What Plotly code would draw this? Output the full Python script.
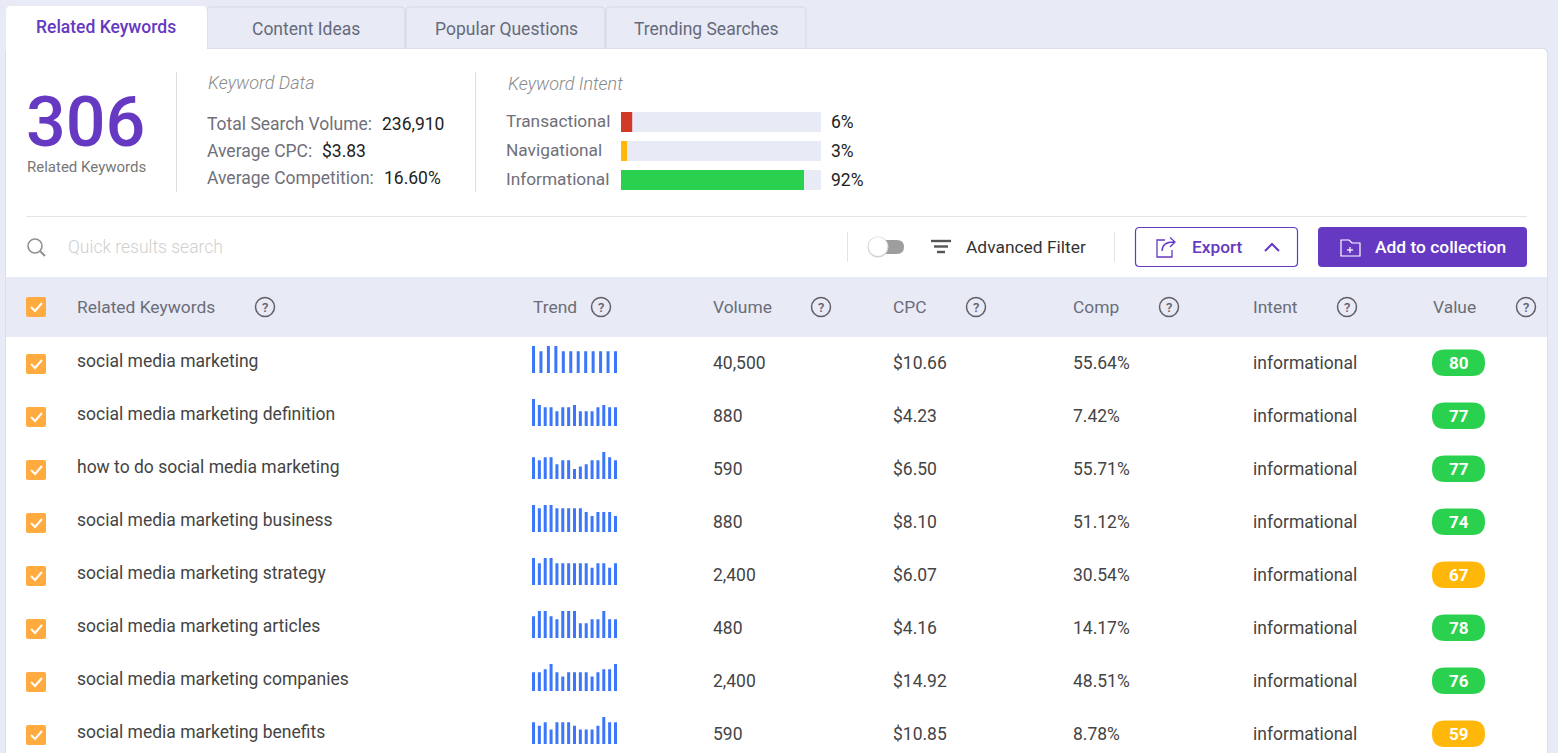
import re
import plotly.graph_objects as go

W, H = 1558, 753
FONT = "Roboto"
PURPLE = "#6639c2"
PAGE = "#e8eaf6"
GREEN = "#2ad14f"
YELLOW = "#ffb80a"
BLUE = "#3b76fb"

# --- data ---
tabs = ["Related Keywords", "Content Ideas", "Popular Questions", "Trending Searches"]
keyword_stats = [("Total Search Volume:", "236,910"), ("Average CPC:", "$3.83"), ("Average Competition:", "16.60%")]
intent_names = ["Transactional", "Navigational", "Informational"]
intent_values = [5.6, 3.0, 91.5]
intent_labels = ["6%", "3%", "92%"]
intent_colors = ["#d03a27", YELLOW, GREEN]
columns = ["Related Keywords", "Trend", "Volume", "CPC", "Comp", "Intent", "Value"]
keywords = [
    "social media marketing",
    "social media marketing definition",
    "how to do social media marketing",
    "social media marketing business",
    "social media marketing strategy",
    "social media marketing articles",
    "social media marketing companies",
    "social media marketing benefits",
]
volumes = ["40,500", "880", "590", "880", "2,400", "480", "2,400", "590"]
cpcs = ["$10.66", "$4.23", "$6.50", "$8.10", "$6.07", "$4.16", "$14.92", "$10.85"]
comps = ["55.64%", "7.42%", "55.71%", "51.12%", "30.54%", "14.17%", "48.51%", "8.78%"]
intents = ["informational"] * 8
scores = [80, 77, 77, 74, 67, 78, 76, 59]
trends = [
    [100, 81, 100, 100, 81, 81, 81, 81, 81, 81, 81, 81],
    [100, 78, 69, 69, 55, 69, 69, 78, 55, 55, 55, 69, 78, 69, 69],
    [81, 69, 81, 81, 55, 69, 69, 37, 46, 55, 69, 69, 100, 81, 69],
    [100, 88, 100, 100, 88, 88, 88, 88, 88, 74, 59, 74, 74, 74, 59],
    [100, 81, 100, 100, 81, 81, 81, 81, 81, 81, 64, 81, 81, 64, 81],
    [81, 100, 100, 81, 69, 100, 100, 100, 55, 55, 69, 69, 100, 69, 69],
    [69, 69, 81, 100, 69, 54, 69, 69, 69, 69, 54, 69, 81, 81, 100],
    [81, 68, 81, 54, 81, 81, 81, 68, 54, 54, 54, 68, 100, 81, 81],
]

shapes = []
notes = []
fig = go.Figure()


def px(x):
    return x / W


def py(y):
    return 1 - y / H


def to_paper(path):
    # paths are written in page pixels, shapes want paper fractions
    return re.sub(r"(-?[\d.]+),(-?[\d.]+)", lambda m: f"{px(float(m[1])):.5f},{py(float(m[2])):.5f}", path)


def add_shape(**kw):
    shapes.append(dict(xref="paper", yref="paper", layer="below", **kw))


def rect(x0, y0, x1, y1, fill):
    add_shape(type="rect", x0=px(x0), y0=py(y0), x1=px(x1), y1=py(y1), fillcolor=fill, line=dict(width=0))


def rrect(x0, y0, x1, y1, r, fill, line=None, lw=1, top_only=False):
    rb = 0 if top_only else r
    p = (f"M{x0+r},{y0} L{x1-r},{y0} Q{x1},{y0} {x1},{y0+r} L{x1},{y1-rb} Q{x1},{y1} {x1-rb},{y1} "
         f"L{x0+rb},{y1} Q{x0},{y1} {x0},{y1-rb} L{x0},{y0+r} Q{x0},{y0} {x0+r},{y0} Z")
    add_shape(type="path", path=to_paper(p), fillcolor=fill,
              line=dict(color=line or "rgba(0,0,0,0)", width=lw if line else 0))


def stroke(path, color, lw=1.5):
    add_shape(type="path", path=to_paper(path), fillcolor="rgba(0,0,0,0)", line=dict(color=color, width=lw))


def seg(x0, y0, x1, y1, color, lw=1):
    add_shape(type="line", x0=px(x0), y0=py(y0), x1=px(x1), y1=py(y1), line=dict(color=color, width=lw))


def circle(cx, cy, r, fill, line=None, lw=1):
    add_shape(type="circle", x0=px(cx-r), y0=py(cy-r), x1=px(cx+r), y1=py(cy+r), fillcolor=fill,
              line=dict(color=line or "rgba(0,0,0,0)", width=lw if line else 0))


def text(x, y, s, size=16, color="#444", anchor="left", weight=400, style="normal", box_h=None):
    # annotations pad their box by about 1px on the left
    x = x - 1 if anchor == "left" else x
    note = dict(xref="paper", yref="paper", x=px(x), y=py(y), text=s, showarrow=False, xanchor=anchor,
                yanchor="middle", borderpad=0,
                font=dict(family=FONT, size=size, color=color, weight=weight, style=style))
    if box_h:
        note["height"] = box_h
    notes.append(note)


def checkbox(y):
    rrect(26, y-10, 46, y+10, 2, "#ffab40")
    stroke(f"M31,{y} L35,{y+4} L42,{y-4}", "white", 2)


def helpicon(x, y):
    circle(x, y, 9.5, "rgba(0,0,0,0)", "#5f6068", 1.5)
    text(x, y, "?", 13, "#5f6068", "center", 500)


# card and tabs
for x0, x1 in [(207, 405), (406, 605), (606, 806)]:
    rrect(x0, 7, x1, 49, 4, PAGE, "#d5d7e6", 1, top_only=True)
rrect(5, 48, 1548, 760, 5, "#dcdeec")
rrect(6, 49, 1547, 760, 5, "white")
rrect(6, 6, 207, 52, 5, "white", top_only=True)
tab_x = [105.8, 306, 506, 706]
for i, t in enumerate(tabs):
    text(tab_x[i], 27 if i == 0 else 29, t, 17.5, PURPLE if i == 0 else "#666a7a", "center", 500 if i == 0 else 400)

# summary block
text(26, 122, "306", 70, PURPLE, weight=500, box_h=66)
text(26.5, 167, "Related Keywords", 15, "#777")
seg(176.5, 72, 176.5, 192, "#dddddd")
seg(475.5, 72, 475.5, 192, "#dddddd")
text(207.5, 82, "Keyword Data", 18, "#8a8a8a", weight=300, style="italic")
text(507.5, 83, "Keyword Intent", 18, "#8a8a8a", weight=300, style="italic")
stat_value_x = [382, 322, 384]
for i, (name, val) in enumerate(keyword_stats):
    text(207, 124 + 27 * i, name, 17.5, "#70707a")
    text(stat_value_x[i], 124 + 27 * i, val, 17.5, "#222")
seg(26, 216.5, 1527, 216.5, "#e4e4e8")

# intent bars
bar_y = [122, 151, 180]
for i, name in enumerate(intent_names):
    text(506, bar_y[i] - 1, name, 17.3, "#70707a")
    text(831, bar_y[i], intent_labels[i], 17.5, "#222")
    ax = str(i + 11)
    fig.add_trace(go.Bar(x=[100], y=[0], orientation="h", width=1, marker=dict(color=PAGE, line_width=0),
                         xaxis="x" + ax, yaxis="y" + ax, showlegend=False, hoverinfo="skip"))
    fig.add_trace(go.Bar(x=[intent_values[i]], y=[0], orientation="h", width=1,
                         marker=dict(color=intent_colors[i], line_width=0),
                         xaxis="x" + ax, yaxis="y" + ax, showlegend=False))

# toolbar
circle(35, 246, 7, "rgba(0,0,0,0)", "#8f8f8f", 1.6)
seg(40, 251, 45, 256, "#8f8f8f", 2)
text(68, 247, "Quick results search", 17.5, "#cfcfcf", weight=300)
seg(847.5, 232, 847.5, 262, "#e4e4e8")
seg(1114.5, 232, 1114.5, 262, "#e4e4e8")
rrect(878, 240, 904, 254, 7, "#9e9e9e")
circle(878, 247, 10.5, "#d2d2d2")
circle(878, 246.5, 9.5, "white")
seg(931, 241, 951, 241, "#555", 2.4)
seg(934, 246.5, 948, 246.5, "#555", 2.4)
seg(937, 252, 945, 252, "#555", 2.4)
text(966, 247, "Advanced Filter", 17.4, "#333")
rrect(1135.5, 227.5, 1297.5, 266.5, 4, "white", PURPLE, 1.2)
stroke("M1165,240 L1157,240 L1157,257 L1172,257 L1172,250", PURPLE, 1.3)
stroke("M1162,251 C1162,244 1167,242 1174,242 M1170,237.5 L1175,242 L1170,247", PURPLE, 1.3)
text(1192, 247, "Export", 17.3, PURPLE, weight=500)
stroke("M1265,251 L1272,244 L1279,251", PURPLE, 2)
rrect(1318, 227, 1527, 267, 4, PURPLE)
stroke("M1341,240 L1349,240 L1352,243 L1360,243 L1360,256 L1341,256 Z", "white", 1.2)
seg(1347, 250, 1353, 250, "white", 1.2)
seg(1350, 247, 1350, 253, "white", 1.2)
text(1375, 247, "Add to collection", 17.4, "white", weight=500)

# table header
rect(6, 277, 1547, 337, PAGE)
checkbox(307)
col_x = [76.5, 532.5, 712.5, 892.5, 1072.5, 1252.5, 1432.5]
help_x = [265, 601, 821, 976, 1169, 1347, 1526]
for i, c in enumerate(columns):
    text(col_x[i], 307, c, 17.4, "#6b6d78")
    helpicon(help_x[i], 307)

# table rows
layout_axes = {}
for i, kw in enumerate(keywords):
    dy = 53 * i
    checkbox(364 + dy)
    text(col_x[0], 361 + dy, kw, 17.5, "#444")
    text(col_x[2], 363 + dy, volumes[i], 17.5, "#444")
    text(col_x[3], 363 + dy, cpcs[i], 17.5, "#444")
    text(col_x[4], 363 + dy, comps[i], 17.5, "#444")
    text(col_x[5], 363 + dy, intents[i], 17.5, "#444")
    rrect(1432, 349.5 + dy, 1485, 376 + dy, 13, GREEN if scores[i] >= 70 else YELLOW)
    text(1458.5, 363 + dy, str(scores[i]), 17, "white", "center", 700)

    n = len(trends[i])
    slot = 82 / (n - 1)
    a = str(i + 2)
    fig.add_trace(go.Bar(x=list(range(n)), y=trends[i], width=3 / slot, marker=dict(color=BLUE, line_width=0),
                         xaxis="x" + a, yaxis="y" + a, showlegend=False))
    layout_axes["xaxis" + a] = dict(domain=[px(533.5 - slot / 2), px(615.5 + slot / 2)],
                                    range=[-0.5, n - 0.5], visible=False, fixedrange=True, anchor="y" + a)
    layout_axes["yaxis" + a] = dict(domain=[py(373 + dy), py(346 + dy)],
                                    range=[0, 100], visible=False, fixedrange=True, anchor="x" + a)

for i in range(3):
    a = str(i + 11)
    layout_axes["xaxis" + a] = dict(domain=[px(621), px(821)], range=[0, 100], visible=False, fixedrange=True, anchor="y" + a)
    layout_axes["yaxis" + a] = dict(domain=[py(bar_y[i] + 10), py(bar_y[i] - 10)],
                                    range=[-0.5, 0.5], visible=False, fixedrange=True, anchor="x" + a)

fig.update_layout(
    width=W, height=H, margin=dict(l=0, r=0, t=0, b=0, pad=0),
    paper_bgcolor=PAGE, plot_bgcolor="rgba(0,0,0,0)", barmode="overlay", showlegend=False,
    font=dict(family=FONT),
    shapes=shapes, annotations=notes,
    **layout_axes,
)

# the browser's default body margin would push the page 8px off
fig.write_html("out.html", config={"displayModeBar": False},
               post_script="document.body.style.margin='0';document.body.style.background='#e8eaf6';")
